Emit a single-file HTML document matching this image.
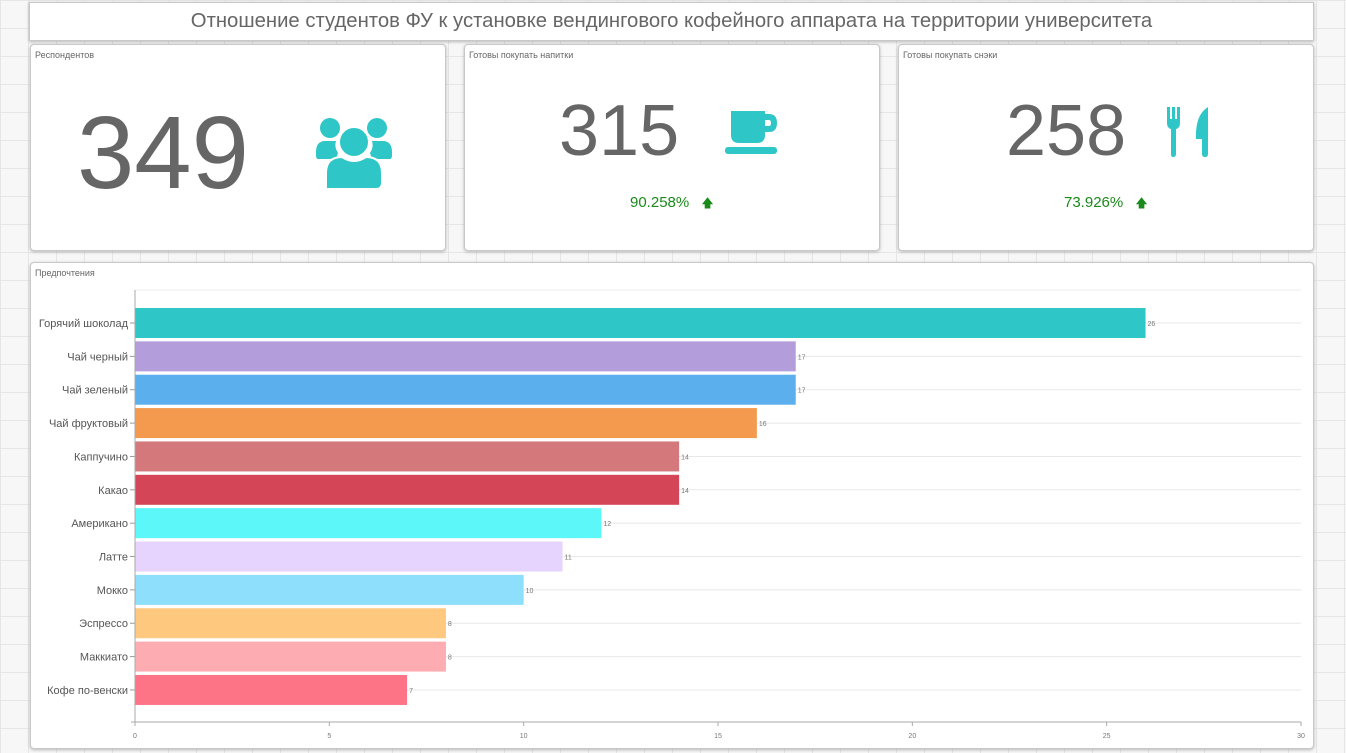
<!DOCTYPE html>
<html><head><meta charset="utf-8"><style>
body{margin:0;width:1346px;height:753px;overflow:hidden;font-family:"Liberation Sans",sans-serif;
background-color:#f7f7f7;background-image:linear-gradient(#e6e6e6 1px,transparent 1px),linear-gradient(90deg,#e6e6e6 1px,transparent 1px);background-size:28px 28px;position:relative}
.box{position:absolute;background:#fff;border:1px solid #c8c8c8;border-radius:4px;box-shadow:0 1px 3px rgba(0,0,0,.25)}
.lbl{position:absolute;left:4px;top:5px;font-size:9px;color:#666}
.big{position:absolute;color:#666;line-height:1}
.pct{position:absolute;color:#1a8a1a;font-size:15px}
</style></head><body>
<div class="box" style="left:29px;top:2px;width:1283px;height:37px;border-radius:0;text-align:center;font-size:20.3px;color:#666;line-height:37px">Отношение студентов ФУ к установке вендингового кофейного аппарата на территории университета</div>

<div class="box" style="left:30px;top:44px;width:414px;height:205px">
<div class="lbl">Респондентов</div>
<div class="big" style="left:46px;top:56px;font-size:103px">349</div>
<svg style="position:absolute;left:283px;top:72px" width="80" height="75" viewBox="0 0 80 75" fill="#2fc6c8">
<circle cx="16" cy="11" r="10"/><circle cx="63" cy="11" r="10"/>
<path d="M2 35 Q2 25 10 24 L22 24 Q20 30 24 36 L22 42 L4 42 Q2 42 2 38Z"/>
<path d="M78 35 Q78 25 70 24 L58 24 Q60 30 56 36 L58 42 L76 42 Q78 42 78 38Z"/>
<circle cx="40" cy="25" r="15" stroke="#fff" stroke-width="2"/>
<path d="M12 72 L12 56 Q12 40 28 40 Q40 48 52 40 Q68 40 68 56 L68 66 Q68 72 62 72Z" stroke="#fff" stroke-width="2"/>
</svg></div>

<div class="box" style="left:464px;top:44px;width:414px;height:205px">
<div class="lbl">Готовы покупать напитки</div>
<div class="big" style="left:94px;top:50px;font-size:72px">315</div>
<svg style="position:absolute;left:260px;top:66px" width="54" height="44" viewBox="0 0 54 44" fill="#2fc6c8">
<path d="M6 0 H40 V24 Q40 32 32 32 H14 Q6 32 6 24Z"/><path d="M40 3 H44 Q52 3 52 12 Q52 21 44 21 H40 V15 H44 Q46 15 46 12 Q46 9 44 9 H40Z"/>
<rect x="0" y="36" width="52" height="7" rx="3"/></svg>
<div class="pct" style="left:165px;top:149px">90.258% <span style="font-size:12px;margin-left:8px">&#129093;</span></div></div>

<div class="box" style="left:898px;top:44px;width:414px;height:205px">
<div class="lbl">Готовы покупать снэки</div>
<div class="big" style="left:107px;top:50px;font-size:72px">258</div>
<svg style="position:absolute;left:268px;top:62px" width="42" height="50" viewBox="0 0 42 50" fill="#2fc6c8">
<path d="M0 0 H3 V12 H5 V0 H8 V12 H10 V0 H13 V16 Q13 21 9 22 V47 Q9 50 6 50 Q4 50 4 47 V22 Q0 21 0 16Z"/>
<path d="M41 0 V47 Q41 50 38 50 Q35 50 35 47 V32 H29 Q28 8 41 0Z"/></svg>
<div class="pct" style="left:165px;top:149px">73.926% <span style="font-size:12px;margin-left:8px">&#129093;</span></div></div>

<div class="box" style="left:30px;top:262px;width:1282px;height:485px">
<div class="lbl">Предпочтения</div></div>
<svg id="chart" style="position:absolute;left:0;top:0" width="1346" height="753"></svg>
<script>
const categories=["Горячий шоколад","Чай черный","Чай зеленый","Чай фруктовый","Каппучино","Какао","Американо","Латте","Мокко","Эспрессо","Маккиато","Кофе по-венски"];
const values=[26,17,17,16,14,14,12,11,10,8,8,7];
const colors=["#2fc6c8","#b39ddb","#5aafec","#f39a4e","#d5787b","#d44558","#5cf8f9","#e6d3fe","#8ddffc","#fec97f","#fdacb2","#fe7487"];
const ticks=[0,5,10,15,20,25,30];
const svg=document.getElementById('chart'),NS="http://www.w3.org/2000/svg";
const x0=135,x1=1301,xmax=30,yTop=290,yBot=722,c0=323,step=33.36,bh=30;
const X=v=>x0+(x1-x0)*v/xmax,Y=i=>c0+i*step;
function mk(t,a,txt){const e=document.createElementNS(NS,t);for(const k in a)e.setAttribute(k,a[k]);if(txt!==undefined)e.textContent=txt;svg.appendChild(e);return e;}
let g=mk('line',{x1:x0,x2:x1,y1:yTop,y2:yTop,stroke:'#eee'});

categories.forEach((c,i)=>{
 let l=mk('line',{x1:x0,x2:x1,y1:Y(i),y2:Y(i),stroke:'#e8e8e8'});
 
 let r=mk('rect',{x:x0,y:Y(i)-bh/2,width:X(values[i])-x0,height:bh,fill:colors[i]});
 
 let t=mk('text',{x:X(values[i])+2,y:Y(i)+3,'font-size':7,fill:'#777'},values[i]);
 
 let cl=mk('text',{x:128,y:Y(i)+4,'font-size':11,fill:'#555','text-anchor':'end'},c);
 
 mk('line',{x1:130,x2:x0,y1:Y(i),y2:Y(i),stroke:'#999'});
});
let ax=mk('line',{x1:x0,x2:x0,y1:yTop,y2:yBot,stroke:'#aaa'});

let bx=mk('line',{x1:x0-4,x2:x1,y1:yBot,y2:yBot,stroke:'#aaa'});

ticks.forEach(v=>{
 mk('line',{x1:X(v),x2:X(v),y1:yBot,y2:yBot+4,stroke:'#aaa'});
 let t=mk('text',{x:X(v),y:738,'font-size':7,fill:'#777','text-anchor':'middle'},v);
 
});
</script>
</body></html>
